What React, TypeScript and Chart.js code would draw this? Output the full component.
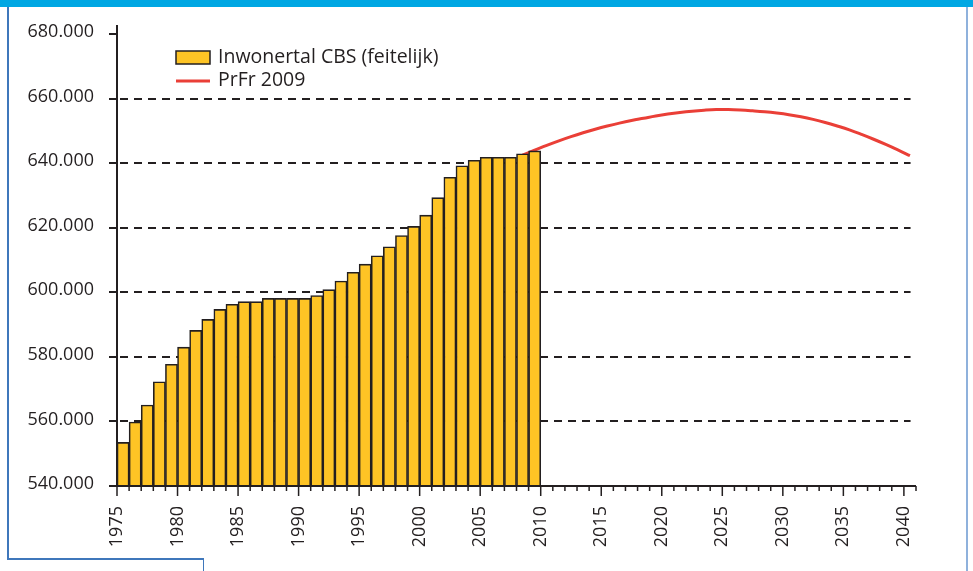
import React, { useEffect, useRef } from 'react';
import { Chart, registerables } from 'chart.js';

Chart.register(...registerables);

// ---- data ----
const years = [
  1975, 1976, 1977, 1978, 1979, 1980, 1981, 1982, 1983, 1984,
  1985, 1986, 1987, 1988, 1989, 1990, 1991, 1992, 1993, 1994,
  1995, 1996, 1997, 1998, 1999, 2000, 2001, 2002, 2003, 2004,
  2005, 2006, 2007, 2008, 2009,
];
const population = [
  553500, 559800, 565100, 572300, 577700, 583000, 588200, 591600, 594700, 596300,
  597100, 597100, 598100, 598100, 598100, 598100, 599000, 600800, 603500, 606200,
  608700, 611300, 614100, 617600, 620400, 623900, 629300, 635600, 639200, 640900,
  641800, 641800, 641800, 642900, 643800,
];
const projectionYears = [
  2008, 2009, 2010, 2011, 2012, 2013, 2014, 2015, 2016, 2017, 2018,
  2019, 2020, 2021, 2022, 2023, 2024, 2025, 2026, 2027, 2028, 2029,
  2030, 2031, 2032, 2033, 2034, 2035, 2036, 2037, 2038, 2039, 2040,
];
const projection = [
  642500, 644000, 645500, 646900, 648200, 649400, 650500, 651500, 652400, 653200, 653900,
  654600, 655200, 655700, 656100, 656400, 656600, 656600, 656450, 656200, 655900, 655500,
  655000, 654350, 653550, 652600, 651500, 650300, 648900, 647400, 645800, 644100, 642300,
];
const yTickValues = [540000, 560000, 580000, 600000, 620000, 640000, 660000, 680000];
const xLabelYears = [1975, 1980, 1985, 1990, 1995, 2000, 2005, 2010, 2015, 2020, 2025, 2030, 2035, 2040];
const legendLabels = ['Inwonertal CBS (feitelijk)', 'PrFr 2009'];

const X_MIN = 1975;
const X_MAX = 2041;
const Y_MIN = 540000;
const Y_MAX = 680000;

const INK = '#231f20';
const BAR = '#fec425';
const RED = '#ea3f37';
const FONT = '"Open Sans", "Noto Sans", sans-serif';

const fmt = (v: number) => {
  const s = String(Math.round(v));
  return s.replace(/\B(?=(\d{3})+(?!\d))/g, '.');
};

const axesPlugin = {
  id: 'customAxes',
  beforeDatasetsDraw(chart: any) {
    const { ctx, chartArea } = chart;
    const xs = chart.scales.x;
    const ys = chart.scales.y;
    ctx.save();
    ctx.strokeStyle = INK;
    ctx.lineWidth = 2.2;
    ctx.setLineDash([8, 6]);
    const xEnd = xs.getPixelForValue(2040.55);
    yTickValues.forEach((v) => {
      if (v === Y_MIN || v === Y_MAX) return;
      const y = Math.round(ys.getPixelForValue(v));
      ctx.beginPath();
      ctx.moveTo(chartArea.left + 3, y);
      ctx.lineTo(xEnd, y);
      ctx.stroke();
    });
    ctx.restore();
  },
  afterDatasetsDraw(chart: any) {
    const { ctx, chartArea } = chart;
    const xs = chart.scales.x;
    const ys = chart.scales.y;
    const left = chartArea.left;
    const bottom = ys.getPixelForValue(Y_MIN);
    ctx.save();
    ctx.strokeStyle = INK;
    ctx.lineWidth = 2;
    ctx.setLineDash([]);
    ctx.beginPath();
    ctx.moveTo(left, ys.getPixelForValue(Y_MAX) - 9);
    ctx.lineTo(left, bottom);
    ctx.stroke();
    yTickValues.forEach((v) => {
      const y = Math.round(ys.getPixelForValue(v));
      ctx.beginPath();
      ctx.moveTo(left - 8, y);
      ctx.lineTo(left, y);
      ctx.stroke();
    });
    ctx.beginPath();
    ctx.moveTo(left - 8, bottom);
    ctx.lineTo(chartArea.right, bottom);
    ctx.stroke();
    ctx.lineWidth = 1.5;
    for (let yr = X_MIN; yr <= X_MAX; yr++) {
      const x = xs.getPixelForValue(yr);
      const len = yr % 5 === 0 ? 10 : 5;
      ctx.beginPath();
      ctx.moveTo(x, bottom);
      ctx.lineTo(x, bottom + len);
      ctx.stroke();
    }
    ctx.restore();
  },
  afterDraw(chart: any) {
    const { ctx, chartArea } = chart;
    const bx = chartArea.left + 59;
    const by = chartArea.top + 17;
    ctx.save();
    ctx.fillStyle = BAR;
    ctx.fillRect(bx, by, 34, 13);
    ctx.strokeStyle = INK;
    ctx.lineWidth = 1.5;
    ctx.strokeRect(bx, by, 34, 13);
    ctx.strokeStyle = RED;
    ctx.lineWidth = 3;
    ctx.beginPath();
    ctx.moveTo(bx, by + 30);
    ctx.lineTo(bx + 34, by + 30);
    ctx.stroke();
    ctx.fillStyle = INK;
    ctx.font = `19.5px ${FONT}`;
    ctx.textBaseline = 'middle';
    ctx.textAlign = 'left';
    ctx.fillText(legendLabels[0], bx + 42, by + 6);
    ctx.fillText(legendLabels[1], bx + 42, by + 29.5);
    ctx.restore();
  },
};

export default function App() {
  const ref = useRef<HTMLCanvasElement | null>(null);

  useEffect(() => {
    if (!ref.current) return;
    const chart = new Chart(ref.current, {
      type: 'bar',
      data: {
        datasets: [
          {
            type: 'bar',
            label: legendLabels[0],
            data: years.map((y, i) => ({ x: y + 0.5, y: population[i] })),
            backgroundColor: BAR,
            borderColor: INK,
            borderWidth: 1.6,
            borderSkipped: false,
            barPercentage: 1,
            categoryPercentage: 1,
          } as any,
          {
            type: 'line',
            label: legendLabels[1],
            data: projectionYears.map((y, i) => ({ x: y + 0.5, y: projection[i] })),
            borderColor: RED,
            borderWidth: 3,
            pointRadius: 0,
            tension: 0.4,
            fill: false,
          } as any,
        ],
      },
      options: {
        responsive: false,
        animation: false,
        devicePixelRatio: 1,
        layout: { padding: { top: 34, right: 57, left: 0, bottom: 0 } },
        plugins: {
          legend: { display: false },
          tooltip: { enabled: false },
          title: { display: false },
        },
        scales: {
          x: {
            type: 'linear',
            min: X_MIN,
            max: X_MAX,
            offset: false,
            grid: { display: false, drawTicks: false },
            border: { display: false },
            afterBuildTicks: (s: any) => {
              s.ticks = xLabelYears.map((v) => ({ value: v }));
            },
            afterFit: (s: any) => {
              s.height = 85;
            },
            ticks: {
              autoSkip: false,
              minRotation: 90,
              maxRotation: 90,
              padding: 20,
              color: INK,
              font: { family: FONT, size: 18 },
              callback: (v: any) => String(v),
            },
          },
          y: {
            type: 'linear',
            min: Y_MIN,
            max: Y_MAX,
            grid: { display: false, drawTicks: false },
            border: { display: false },
            afterBuildTicks: (s: any) => {
              s.ticks = yTickValues.map((v) => ({ value: v }));
            },
            afterFit: (s: any) => {
              s.width = 117;
            },
            ticks: {
              padding: 23,
              labelOffset: -2,
              color: INK,
              font: { family: FONT, size: 18 },
              callback: (v: any) => fmt(Number(v)),
            },
          },
        },
      } as any,
      plugins: [axesPlugin],
    });
    return () => chart.destroy();
  }, []);

  return (
    <div style={{ position: 'fixed', left: 0, top: 0, width: 973, height: 571, background: '#fff', overflow: 'hidden' }}>
      <div style={{ position: 'absolute', left: 0, top: 0, width: 973, height: 7, background: '#00a7e3' }} />
      <div style={{ position: 'absolute', left: 7, top: 7, width: 1.5, height: 552, background: '#3f77bb' }} />
      <div style={{ position: 'absolute', left: 7, top: 558, width: 197, height: 1.5, background: '#3f77bb' }} />
      <div style={{ position: 'absolute', left: 202.5, top: 558, width: 1.5, height: 13, background: '#3f77bb' }} />
      <div style={{ position: 'absolute', left: 965.5, top: 7, width: 2, height: 564, background: '#8fb1dc' }} />
      <canvas ref={ref} width={973} height={571} style={{ position: 'absolute', left: 0, top: 0, width: 973, height: 571 }} />
    </div>
  );
}
